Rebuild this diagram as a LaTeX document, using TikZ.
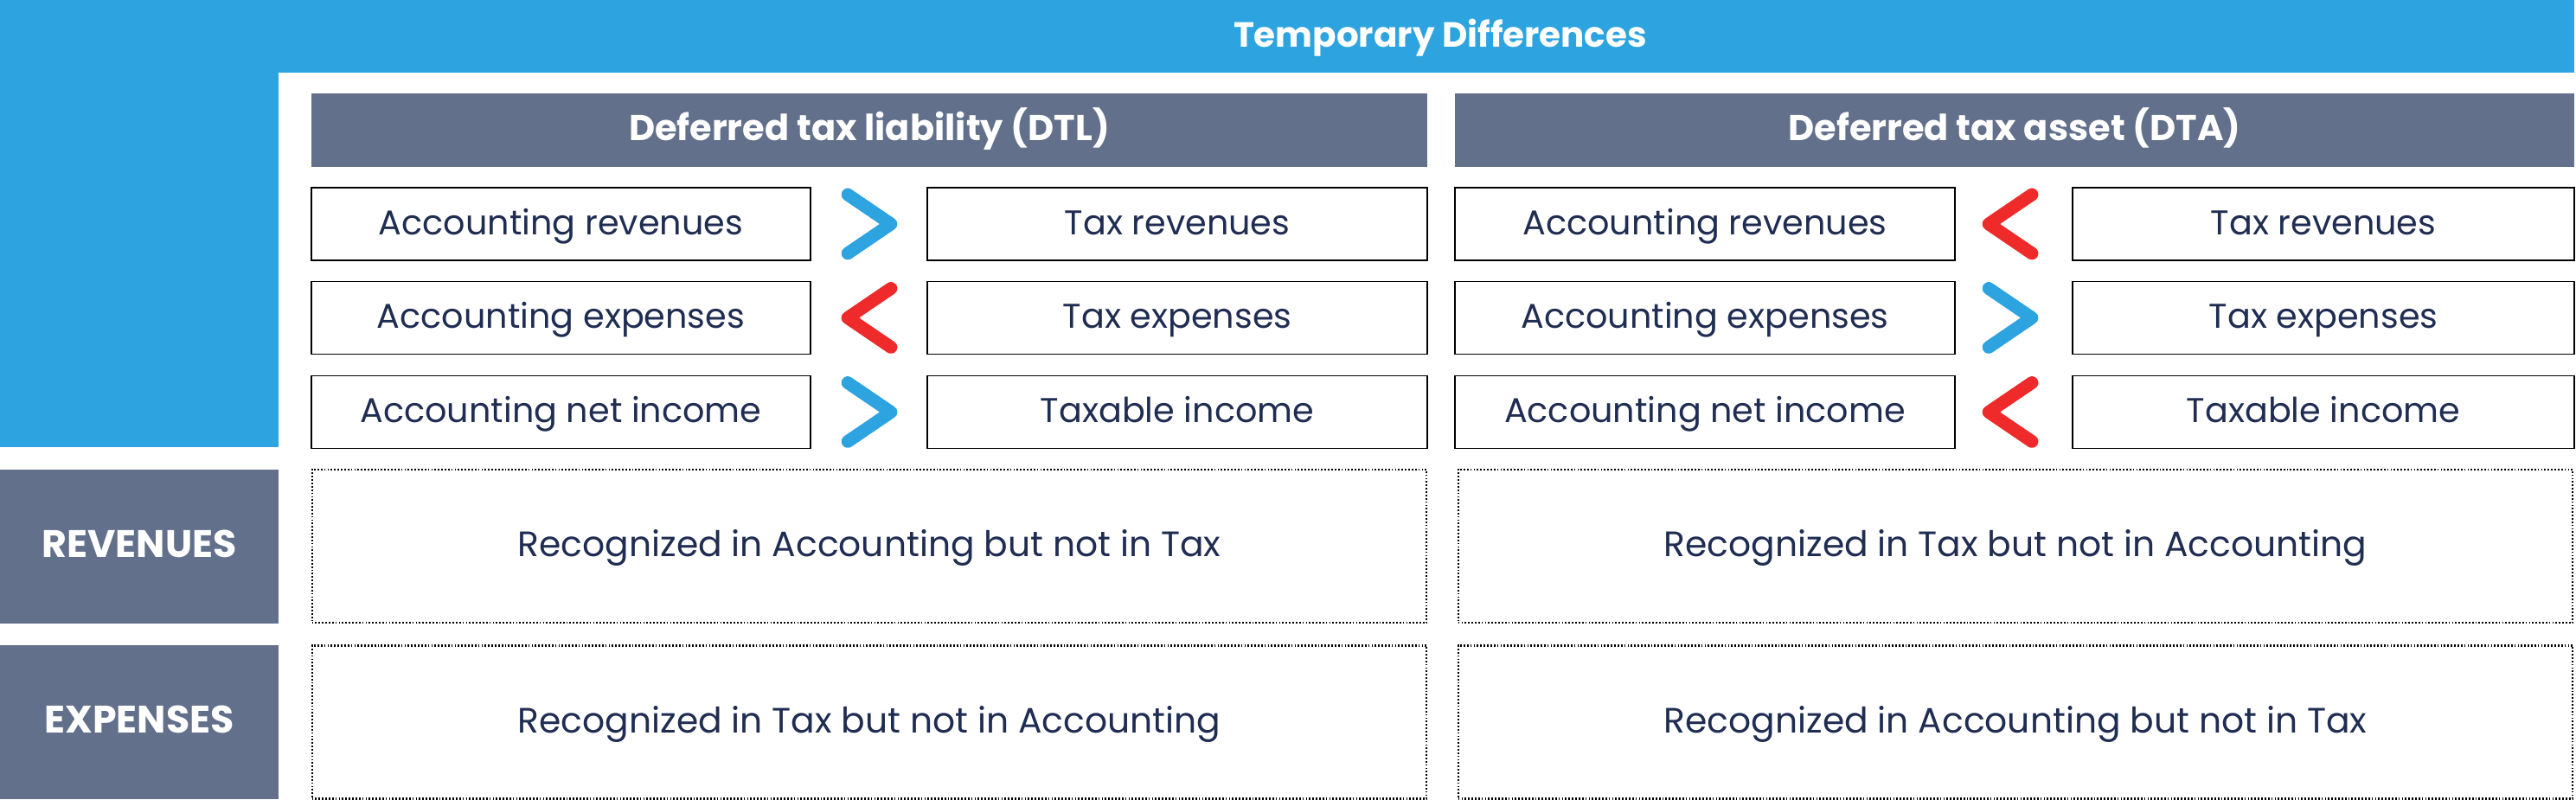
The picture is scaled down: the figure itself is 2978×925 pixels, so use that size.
\documentclass[tikz,border=0pt]{standalone}
\usepackage{fontspec}
\setmainfont{Poppins}
\definecolor{tdblue}{HTML}{2DA4DF}
\definecolor{tdslate}{HTML}{62708C}
\definecolor{tdred}{HTML}{EE2A2A}
\definecolor{tdtext}{HTML}{1F2D52}
\tikzset{
  cell/.style={draw=black, line width=0.55pt, minimum width=5.77cm, minimum height=0.84cm,
    inner sep=0pt, text height=0.7em, text depth=0pt, text=tdtext,
    font=\fontsize{11.3}{13}\selectfont},
  note/.style={draw=black, line width=0.6pt, dash pattern=on 0.5pt off 0.6pt,
    minimum width=12.88cm, minimum height=1.77cm, inner sep=0pt,
    text height=0.7em, text depth=0pt, text=tdtext,
    font=\fontsize{11.6}{14}\selectfont},
  head/.style={fill=tdslate, minimum height=0.85cm, inner sep=0pt, text=white,
    text height=0.7em, text depth=0pt,
    font=\bfseries\fontsize{11.8}{13}\selectfont},
  side/.style={fill=tdslate, minimum width=3.22cm, minimum height=1.78cm, inner sep=0pt,
    text height=0.7em, text depth=0pt,
    text=white, font=\bfseries\fontsize{12.6}{14}\selectfont},
  gt/.style={draw=tdblue, line width=4.2pt, line cap=round, line join=round},
  lt/.style={draw=tdred, line width=4.2pt, line cap=round, line join=round}
}
\begin{document}
\begin{tikzpicture}[x=0.01cm, y=-0.01cm]
	\useasboundingbox (0,0) rectangle (2978,925);
	% blue frame
	\fill[tdblue] (0,0) rectangle (2976,84);
	\fill[tdblue] (0,0) rectangle (322,517);
	\node[text=white, inner sep=0pt, text height=0.7em, text depth=0pt, font=\bfseries\fontsize{11.5}{14}\selectfont] (title) at (1665,42) {Temporary Differences};
	% column heads
	\node[head, minimum width=12.90cm] (dtl) at (1005,150.5) {Deferred tax liability (DTL)};
	\node[head, minimum width=12.94cm] (dta) at (2329,150.5) {Deferred tax asset (DTA)};
	% DTL side
	\node[cell] (l1) at (648.5,259) {Accounting revenues};
	\node[cell] (l2) at (648.5,367.5) {Accounting expenses};
	\node[cell] (l3) at (648.5,476.5) {Accounting net income};
	\node[cell] (t1) at (1361,259) {Tax revenues};
	\node[cell] (t2) at (1361,367.5) {Tax expenses};
	\node[cell] (t3) at (1361,476.5) {Taxable income};
	% DTA side
	\node[cell] (a1) at (1971,259) {Accounting revenues};
	\node[cell] (a2) at (1971,367.5) {Accounting expenses};
	\node[cell] (a3) at (1971,476.5) {Accounting net income};
	\node[cell, minimum width=5.80cm] (x1) at (2686,259) {Tax revenues};
	\node[cell, minimum width=5.80cm] (x2) at (2686,367.5) {Tax expenses};
	\node[cell, minimum width=5.80cm] (x3) at (2686,476.5) {Taxable income};
	% signs
	\draw[gt] (980,225) -- (1030,259) -- (980,293);
	\draw[lt] (1030,333.5) -- (980,367.5) -- (1030,401.5);
	\draw[gt] (980,442.5) -- (1030,476.5) -- (980,510.5);
	\draw[lt] (2349,225) -- (2299,259) -- (2349,293);
	\draw[gt] (2299,333.5) -- (2349,367.5) -- (2299,401.5);
	\draw[lt] (2349,442.5) -- (2299,476.5) -- (2349,510.5);
	% rows below
	\node[side] (rev) at (161,632) {REVENUES};
	\node[side] (exp) at (161,835) {EXPENSES};
	\node[note] (r1) at (1005,631.5) {Recognized in Accounting but not in Tax};
	\node[note] (r2) at (2330,631.5) {Recognized in Tax but not in Accounting};
	\node[note] (e1) at (1005,835) {Recognized in Tax but not in Accounting};
	\node[note] (e2) at (2330,835) {Recognized in Accounting but not in Tax};
\end{tikzpicture}
\end{document}
